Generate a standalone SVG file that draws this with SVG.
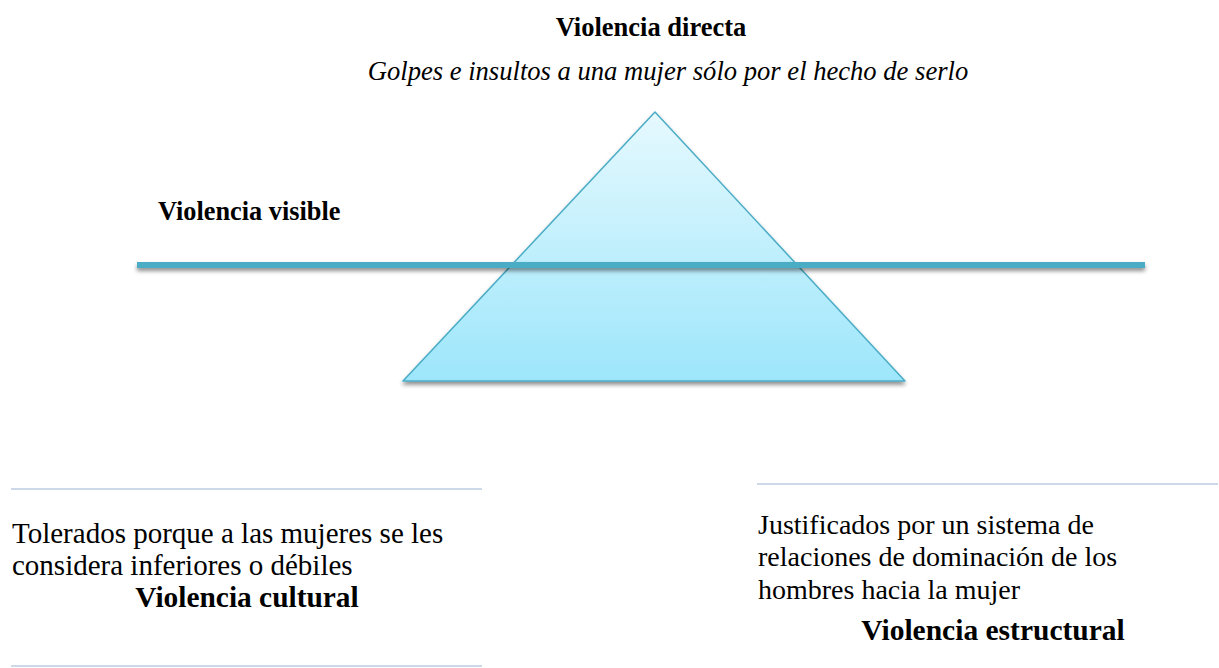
<svg xmlns="http://www.w3.org/2000/svg" width="1219" height="668" viewBox="0 0 1219 668">
<style>
.t{font-family:"Liberation Serif","Times New Roman",serif;fill:#000}
.b{font-weight:bold}
.sep{stroke:#BCCBE0;stroke-width:1.3}
</style>
<defs>
<linearGradient id="tg" x1="0" y1="0" x2="0" y2="1">
<stop offset="0" stop-color="#E6F9FE"/>
<stop offset="1" stop-color="#9DE6FB"/>
</linearGradient>
<filter id="sh" filterUnits="userSpaceOnUse" x="0" y="0" width="1219" height="668">
<feGaussianBlur in="SourceAlpha" stdDeviation="2"/>
<feOffset dx="0" dy="3" result="o"/>
<feComponentTransfer><feFuncA type="linear" slope="0.45"/></feComponentTransfer>
<feMerge><feMergeNode/><feMergeNode in="SourceGraphic"/></feMerge>
</filter>
</defs>
<rect width="1219" height="668" fill="#fff"/>
<g id="pyramid">
<polygon points="655,112 403,381 905,381" fill="url(#tg)" stroke="#4BACC6" stroke-width="1.5" stroke-linejoin="round" filter="url(#sh)"/>
</g>
<g id="visible-line">
<rect x="137" y="262" width="1008" height="6" fill="#4BACC6" filter="url(#sh)"/>
</g>
<g id="directa">
<text class="t b" x="651" y="36" font-size="26.5" text-anchor="middle">Violencia directa</text>
<text class="t" x="668" y="80" font-size="26.6" font-style="italic" text-anchor="middle">Golpes e insultos a una mujer sólo por el hecho de serlo</text>
</g>
<g id="visible">
<text class="t b" x="158" y="220" font-size="26.3">Violencia visible</text>
</g>
<g id="separators">
<line class="sep" x1="11" y1="489" x2="482" y2="489"/>
<line class="sep" x1="11" y1="666" x2="482" y2="666"/>
<line class="sep" x1="757" y1="484" x2="1218" y2="484"/>
</g>
<g id="cultural">
<text class="t" x="12" y="543" font-size="29">Tolerados porque a las mujeres se les</text>
<text class="t" x="12" y="575" font-size="29">considera inferiores o débiles</text>
<text class="t b" x="247" y="607" font-size="29.4" text-anchor="middle">Violencia cultural</text>
</g>
<g id="estructural">
<text class="t" x="758" y="534" font-size="28">Justificados por un sistema de</text>
<text class="t" x="758" y="566" font-size="28">relaciones de dominación de los</text>
<text class="t" x="758" y="599" font-size="28">hombres hacia la mujer</text>
<text class="t b" x="993" y="640" font-size="29.5" text-anchor="middle">Violencia estructural</text>
</g>
</svg>
